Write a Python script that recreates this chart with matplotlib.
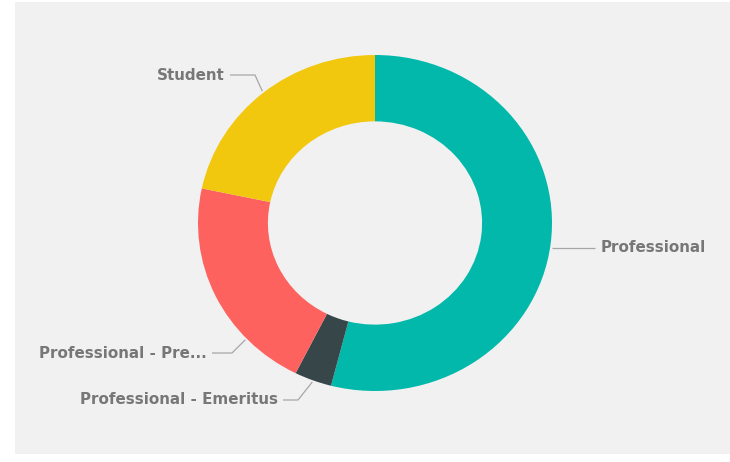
import matplotlib.pyplot as plt
from matplotlib.patches import Rectangle
import numpy as np

categories = ['Professional', 'Professional - Emeritus', 'Professional - Pre...', 'Student']
shares = [54.0, 3.4, 20.9, 21.7]
colors = ['#01B8AA', '#374649', '#FD625E', '#F2C80F']

# Layout in pixels (reference image is 730x462)
W, H = 730, 462
cx, cy = 375, 223        # donut centre, y from the top
rx, ry = 177, 168        # outer radius, horizontal / vertical
hole = 0.605

fig = plt.figure(figsize=(W / 100, H / 100), dpi=100)
fig.patch.set_facecolor('white')
fig.patches.append(Rectangle((15 / W, (H - 454) / H), 1 - 15 / W, (454 - 2) / H,
                             transform=fig.transFigure, facecolor='#F1F1F1',
                             edgecolor='none', zorder=-10))

ax = fig.add_axes([0, 0, 1, 1])
ax.set_facecolor('none')
wedges, _ = ax.pie(shares, colors=colors, startangle=90, counterclock=False,
                   radius=1, wedgeprops=dict(width=1 - hole, edgecolor='none'))
ax.set_aspect('auto')
ax.set_xlim(-cx / rx, (W - cx) / rx)
ax.set_ylim(-(H - cy) / ry, cy / ry)
ax.axis('off')


def px(x, y):
    return (x - cx) / rx, (cy - y) / ry


# label placement: (angle of leader start, elbow px, text edge px, ha)
label_style = {
    'Professional': (None, (557, 248), (601, 248), 'left'),
    'Professional - Emeritus': (None, (298, 400), (278, 400), 'right'),
    'Professional - Pre...': (223.5, (232, 353), (207, 353), 'right'),
    'Student': (None, (255, 75), (225, 75), 'right'),
}

for w, name in zip(wedges, categories):
    ang, elbow, tpos, ha = label_style[name]
    if ang is None:
        ang = (w.theta1 + w.theta2) / 2
    a = np.deg2rad(ang)
    start = (np.cos(a) * 1.01, np.sin(a) * 1.01)
    ex, ey = px(*elbow)
    if name == 'Professional':
        start = (start[0], ey)
    tx, ty = px(*tpos)
    lx = px(tpos[0] + (5 if ha == 'right' else -6), 0)[0]
    ax.plot([start[0], ex, lx], [start[1], ey, ey], color='#A6A6A6', lw=0.9,
            solid_capstyle='butt')
    ax.text(tx, ty, name, ha=ha, va='center', fontsize=10.9, color='#777777',
            family='DejaVu Sans', fontweight='bold')

fig.savefig('out.png', dpi=100)
